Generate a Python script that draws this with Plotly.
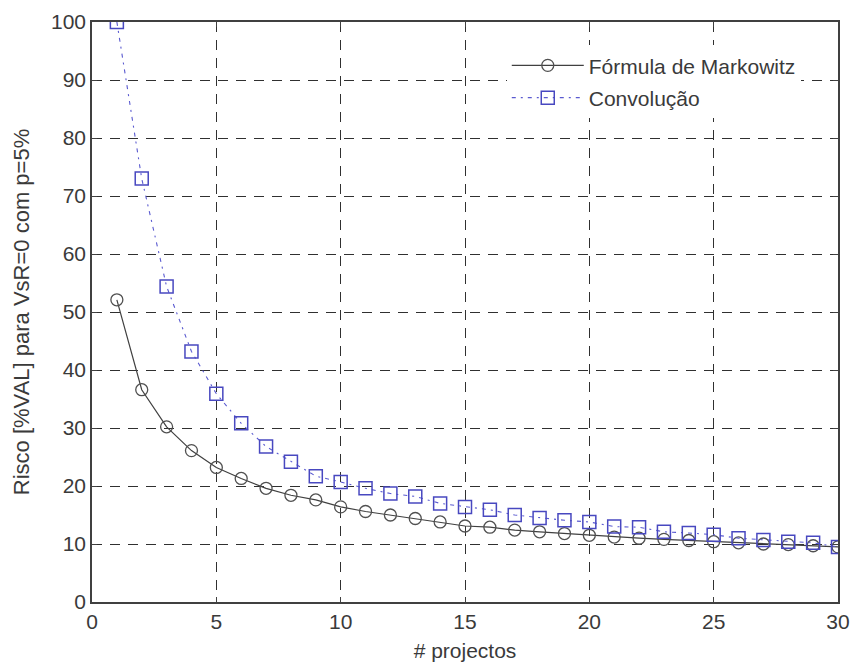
import plotly.graph_objects as go

projectos = list(range(1, 31))
markowitz = [52.1, 36.6, 30.2, 26.1, 23.2, 21.3, 19.6, 18.4, 17.6, 16.4,
             15.6, 15.0, 14.4, 13.8, 13.1, 12.9, 12.4, 12.1, 11.8, 11.5,
             11.2, 11.0, 10.8, 10.6, 10.4, 10.2, 10.0, 9.9, 9.7, 9.5]
convolucao = [100.0, 73.0, 54.4, 43.2, 35.9, 30.8, 26.8, 24.2, 21.7, 20.7,
              19.6, 18.7, 18.2, 17.0, 16.4, 15.9, 15.0, 14.5, 14.1, 13.8,
              13.0, 12.9, 12.1, 11.9, 11.6, 11.0, 10.7, 10.4, 10.2, 9.5]
xticks = [0, 5, 10, 15, 20, 25, 30]
yticks = [0, 10, 20, 30, 40, 50, 60, 70, 80, 90, 100]

FONT = "Liberation Sans, Arial, sans-serif"
TXT = "#3a3a3a"

fig = go.Figure()
fig.add_trace(go.Scatter(
    x=projectos, y=markowitz, name="Fórmula de Markowitz",
    mode="lines+markers", legendgroup="a",
    line=dict(color="#404040", width=1.2, dash="solid"),
    marker=dict(symbol="circle-open", size=12, color="#505050", line=dict(width=1.3)),
))
fig.add_trace(go.Scatter(
    x=projectos, y=convolucao, name="Convolução",
    mode="lines+markers", legendgroup="b",
    line=dict(color="#5a5ad0", width=1.1, dash="4px,5px,2px,5px"),
    marker=dict(symbol="square-open", size=13, color="#4848c0", line=dict(width=1.5)),
))

axis_common = dict(
    showgrid=True, gridcolor="#303030", gridwidth=1, griddash="10px,8px",
    showline=True, linecolor="#404040", linewidth=1.5, mirror="ticks",
    ticks="inside", ticklen=5, tickcolor="#404040",
    zeroline=False, automargin=False,
    tickfont=dict(family=FONT, size=21, color=TXT),
)

fig.update_layout(
    width=853, height=662,
    margin=dict(l=92, r=15, t=22, b=60),
    paper_bgcolor="white", plot_bgcolor="white",
    font=dict(family=FONT, size=20, color=TXT),
    xaxis=dict(range=[0, 30], tickvals=xticks,
               title=dict(text="# projectos", standoff=12, font=dict(size=21, color=TXT)),
               **axis_common),
    yaxis=dict(range=[0, 100], tickvals=yticks,
               title=dict(text="Risco [%VAL] para VsR=0 com p=5%", standoff=15,
                          font=dict(size=22, color=TXT)),
               **axis_common),
    legend=dict(x=0.556, y=0.96, xanchor="left", yanchor="top",
                bgcolor="white", borderwidth=0,
                font=dict(size=21, color=TXT),
                tracegroupgap=2, itemwidth=72),
    showlegend=True,
)

fig.write_html("out.html")
